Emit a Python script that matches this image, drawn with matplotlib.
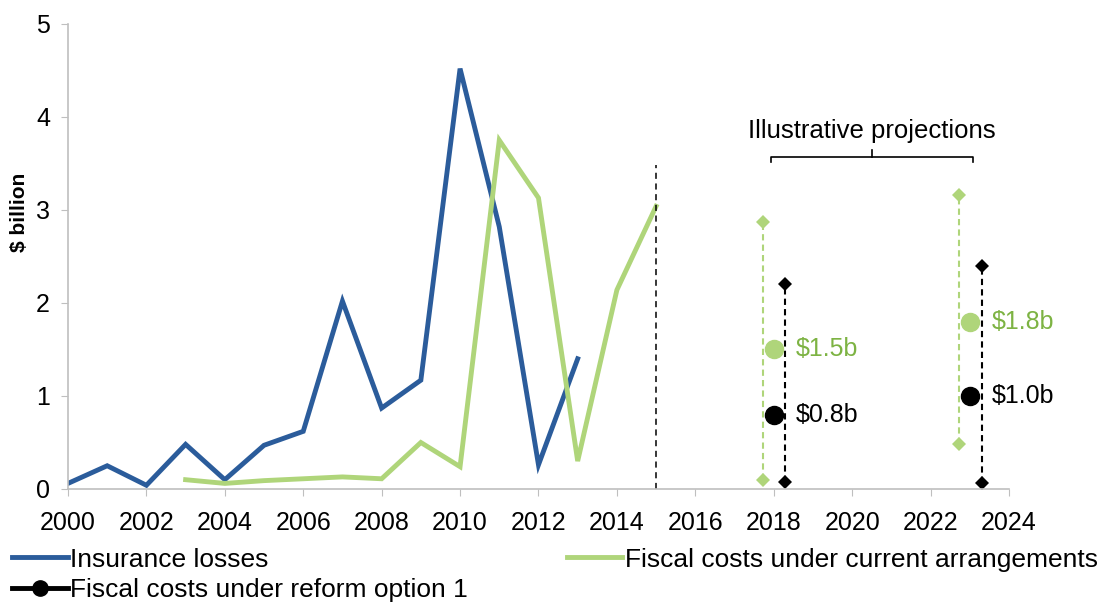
import matplotlib
import matplotlib.pyplot as plt
from matplotlib.lines import Line2D

matplotlib.use('Agg')
plt.rcParams['font.family'] = ['Liberation Sans', 'DejaVu Sans']

# historical series, $ billion
loss_years = list(range(2000, 2014))
insurance_losses = [0.06, 0.25, 0.04, 0.48, 0.10, 0.47, 0.62, 2.02, 0.87,
                    1.17, 4.52, 2.82, 0.26, 1.40]

fiscal_years = list(range(2003, 2016))
fiscal_current = [0.10, 0.06, 0.09, 0.11, 0.13, 0.11, 0.50, 0.24, 3.75,
                  3.13, 0.30, 2.14, 3.04]

# illustrative projections: central estimate and low/high range
proj_years = [2018, 2023]
current_mid = [1.5, 1.8]
current_low = [0.10, 0.48]
current_high = [2.87, 3.16]
reform_mid = [0.8, 1.0]
reform_low = [0.08, 0.06]
reform_high = [2.20, 2.40]

BLUE = '#2B5C9B'
GREEN = '#AFD57A'
GREEN_TXT = '#7DB343'
AXIS_GREY = '#BFBFBF'

fig = plt.figure(figsize=(11.09, 6.04), dpi=100)
ax = fig.add_axes([0.0613, 0.1904, 0.8485, 0.7699])

ax.plot(loss_years, insurance_losses, color=BLUE, lw=3.5,
        solid_joinstyle='miter')
ax.plot(fiscal_years, fiscal_current, color=GREEN, lw=3.5,
        solid_joinstyle='miter')

# boundary between history and projections
ax.plot([2015, 2015], [0, 3.48], color='black', lw=1.1, ls=(0, (4, 3)))

for i, yr in enumerate(proj_years):
    xg = yr - 0.28
    xb = yr + 0.3
    ax.plot([xg, xg], [current_low[i], current_high[i]], color=GREEN,
            lw=1.5, ls=(0, (3, 2)), marker='D', markersize=7,
            markeredgewidth=0)
    ax.plot([xb, xb], [reform_low[i], reform_high[i]], color='black',
            lw=1.5, ls=(0, (3, 2)), marker='D', markersize=7,
            markeredgewidth=0)
    ax.plot(yr, current_mid[i], 'o', color=GREEN, markersize=13)
    ax.plot(yr, reform_mid[i], 'o', color='black', markersize=13)
    ax.text(yr + 0.55, current_mid[i], f'${current_mid[i]:.1f}b',
            color=GREEN_TXT, fontsize=18, va='center', ha='left')
    ax.text(yr + 0.55, reform_mid[i], f'${reform_mid[i]:.1f}b',
            color='black', fontsize=18, va='center', ha='left')

# bracket over the projection years
bx0, bx1 = 2017.93, 2023.09
bmid = (bx0 + bx1) / 2
ax.plot([bx0, bx0, bx1, bx1], [3.52, 3.57, 3.57, 3.52], color='black', lw=1.2)
ax.plot([bmid, bmid], [3.57, 3.64], color='black', lw=1.2)
ax.text(bmid, 3.72, 'Illustrative projections', ha='center', va='bottom',
        fontsize=18.5)

ax.set_xlim(2000, 2024)
ax.set_ylim(0, 5)
ax.set_xticks(range(2000, 2025, 2))
ax.set_yticks(range(0, 6))
ax.tick_params(labelsize=18, length=5, color=AXIS_GREY, direction='out')
ax.tick_params(axis='x', pad=11)
ax.tick_params(axis='y', pad=8)
for side in ['top', 'right']:
    ax.spines[side].set_visible(False)
for side in ['left', 'bottom']:
    ax.spines[side].set_color(AXIS_GREY)
    ax.spines[side].set_linewidth(1.2)
ax.set_ylabel('$ billion', fontsize=15, fontweight='bold')
ax.yaxis.set_label_coords(-0.041, 0.594)

handles = [
    Line2D([], [], color=BLUE, lw=3.5),
    Line2D([], [], color='black', lw=3.5, marker='o', markersize=11),
    Line2D([], [], color=GREEN, lw=3.5),
]
labels = ['Insurance losses', 'Fiscal costs under reform option 1',
          'Fiscal costs under current arrangements']
fig.legend(handles, labels, loc='upper left', bbox_to_anchor=(0.011, 0.0935),
           ncol=2, frameon=False, fontsize=19, handlelength=2.1,
           handletextpad=0.1, labelspacing=0.25, columnspacing=3.75,
           borderaxespad=0, borderpad=0)

fig.savefig('out.png', dpi=100)
